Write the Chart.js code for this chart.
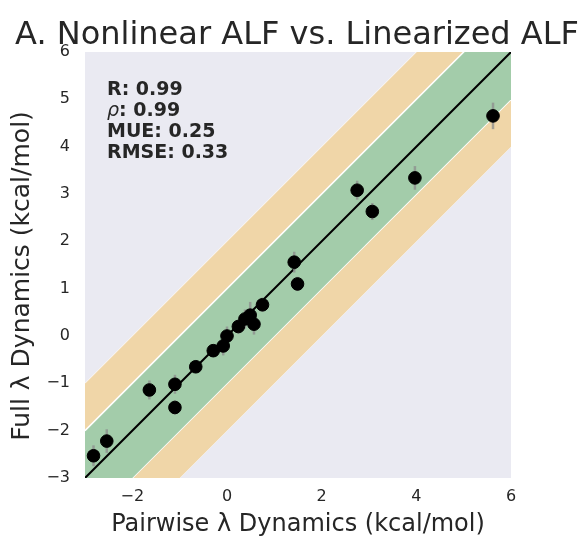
<!DOCTYPE html>
<html>
<head>
<meta charset="utf-8">
<script src="https://cdn.jsdelivr.net/npm/chart.js@4.4.0/dist/chart.umd.min.js"></script>
<style>
html,body{margin:0;padding:0;background:#fff;}
#wrap{width:583px;height:539px;position:relative;}
</style>
</head>
<body>
<div id="wrap"><canvas id="c" width="583" height="539"></canvas></div>
<script>
// ---- data ----
const pairwiseX = [-2.82,-2.54,-1.64,-1.10,-1.10,-0.66,-0.29,-0.08,0.00,0.24,0.38,0.49,0.57,0.75,1.42,1.49,2.75,3.07,3.97,5.62];
const fullY     = [-2.53,-2.22,-1.14,-1.02,-1.51,-0.65,-0.31,-0.21,0.00,0.20,0.36,0.44,0.25,0.66,1.56,1.10,3.08,2.63,3.34,4.65];
const fullErr   = [0.22,0.25,0.20,0.20,0.15,0.10,0.12,0.20,0.20,0.15,0.20,0.28,0.22,0.15,0.22,0.15,0.20,0.18,0.25,0.28];
const axisRange = [-3, 6];
const xTicks = [-2, 0, 2, 4, 6];
const yTicks = [-3, -2, -1, 0, 1, 2, 3, 4, 5, 6];
const innerBand = 1;   // kcal/mol
const outerBand = 2;   // kcal/mol
const statsLines = [["R", ": 0.99"], ["ρ", ": 0.99"], ["MUE", ": 0.25"], ["RMSE", ": 0.33"]];
const titleText = "A. Nonlinear ALF vs. Linearized ALF";
const xLabel = "Pairwise λ Dynamics (kcal/mol)";
const yLabel = "Full λ Dynamics (kcal/mol)";

const FONT = "'DejaVu Sans', sans-serif";
const pts = pairwiseX.map((x,i)=>({x:x, y:fullY[i]}));
const lineAt = off => axisRange.map(v=>({x:v, y:v+off}));

const bgPlugin = {
  id:'bg',
  beforeDraw(chart){
    const {ctx, chartArea:a} = chart;
    ctx.save(); ctx.fillStyle='#EAEAF2';
    ctx.fillRect(a.left, a.top, a.right-a.left, a.bottom-a.top);
    ctx.restore();
  }
};
const errPlugin = {
  id:'err',
  beforeDatasetDraw(chart, args){
    if (args.index !== 0) return;
    const {ctx} = chart; const xs = chart.scales.x, ys = chart.scales.y;
    ctx.save(); ctx.strokeStyle='rgba(140,140,140,0.75)'; ctx.lineWidth=2.5;
    pairwiseX.forEach((x,i)=>{
      const px = xs.getPixelForValue(x);
      ctx.beginPath();
      ctx.moveTo(px, ys.getPixelForValue(fullY[i]-fullErr[i]));
      ctx.lineTo(px, ys.getPixelForValue(fullY[i]+fullErr[i]));
      ctx.stroke();
    });
    ctx.restore();
  }
};
const textPlugin = {
  id:'txt',
  afterDraw(chart){
    const {ctx} = chart;
    ctx.save();
    ctx.fillStyle='#262626';
    ctx.textAlign='center'; ctx.textBaseline='alphabetic';
    ctx.font = "32px " + FONT;
    ctx.fillText(titleText, 297, 44);
    // y axis label
    ctx.save();
    ctx.translate(22, 276);
    ctx.rotate(-Math.PI/2);
    ctx.textBaseline='middle';
    ctx.font = "25px " + FONT;
    ctx.fillText(yLabel, 0, 0);
    ctx.restore();
    ctx.textAlign='left';
    let y = 95;
    statsLines.forEach(([a,b])=>{
      let x = 107;
      ctx.font = (a==='ρ' ? "italic " : "bold ") + "19px " + FONT;
      ctx.fillText(a, x, y);
      x += ctx.measureText(a).width;
      ctx.font = "bold 19px " + FONT;
      ctx.fillText(b, x, y);
      y += 21;
    });
    ctx.restore();
  }
};

new Chart(document.getElementById('c'), {
  data: {
    datasets: [
      {type:'scatter', data: pts, backgroundColor:'#000', borderColor:'#000', pointRadius:6.3, pointHoverRadius:6.3, order:0},
      {type:'line', data: lineAt(0), borderColor:'#000', borderWidth:2, pointRadius:0, fill:false, order:1},
      {type:'line', data: lineAt(innerBand), borderColor:'#fff', borderWidth:1.5, pointRadius:0, fill:'+1', backgroundColor:'#A3CCAA', order:2},
      {type:'line', data: lineAt(-innerBand), borderColor:'#fff', borderWidth:1.5, pointRadius:0, fill:false, order:2},
      {type:'line', data: lineAt(outerBand), borderColor:'rgba(255,255,255,0.8)', borderWidth:1, pointRadius:0, fill:'+1', backgroundColor:'#F0D6A8', order:3},
      {type:'line', data: lineAt(-outerBand), borderColor:'rgba(255,255,255,0.8)', borderWidth:1, pointRadius:0, fill:false, order:3}
    ]
  },
  options: {
    responsive:false, animation:false, devicePixelRatio:1,
    layout:{padding:{top:52, right:72, left:0, bottom:0}},
    plugins:{legend:{display:false}, tooltip:{enabled:false}, title:{display:false}},
    scales:{
      x:{type:'linear', min:axisRange[0], max:axisRange[1],
         grid:{display:false, drawTicks:false}, border:{display:false},
         afterBuildTicks(s){ s.ticks = xTicks.map(v=>({value:v})); },
         afterFit(s){ s.height = 61; },
         ticks:{font:{family:FONT, size:16}, color:'#262626', padding:9, callback:v=>String(v).replace('-', '\u2212')},
         title:{display:true, text:xLabel, font:{family:FONT, size:24}, color:'#262626', padding:{top:0,bottom:0}}},
      y:{type:'linear', min:axisRange[0], max:axisRange[1],
         grid:{display:false, drawTicks:false}, border:{display:false},
         afterBuildTicks(s){ s.ticks = yTicks.map(v=>({value:v})); },
         afterFit(s){ s.width = 85; },
         ticks:{font:{family:FONT, size:16}, color:'#262626', padding:15, callback:v=>String(v).replace('-', '\u2212')},
         title:{display:false}}
    }
  },
  plugins:[bgPlugin, errPlugin, textPlugin]
});
</script>
</body>
</html>
